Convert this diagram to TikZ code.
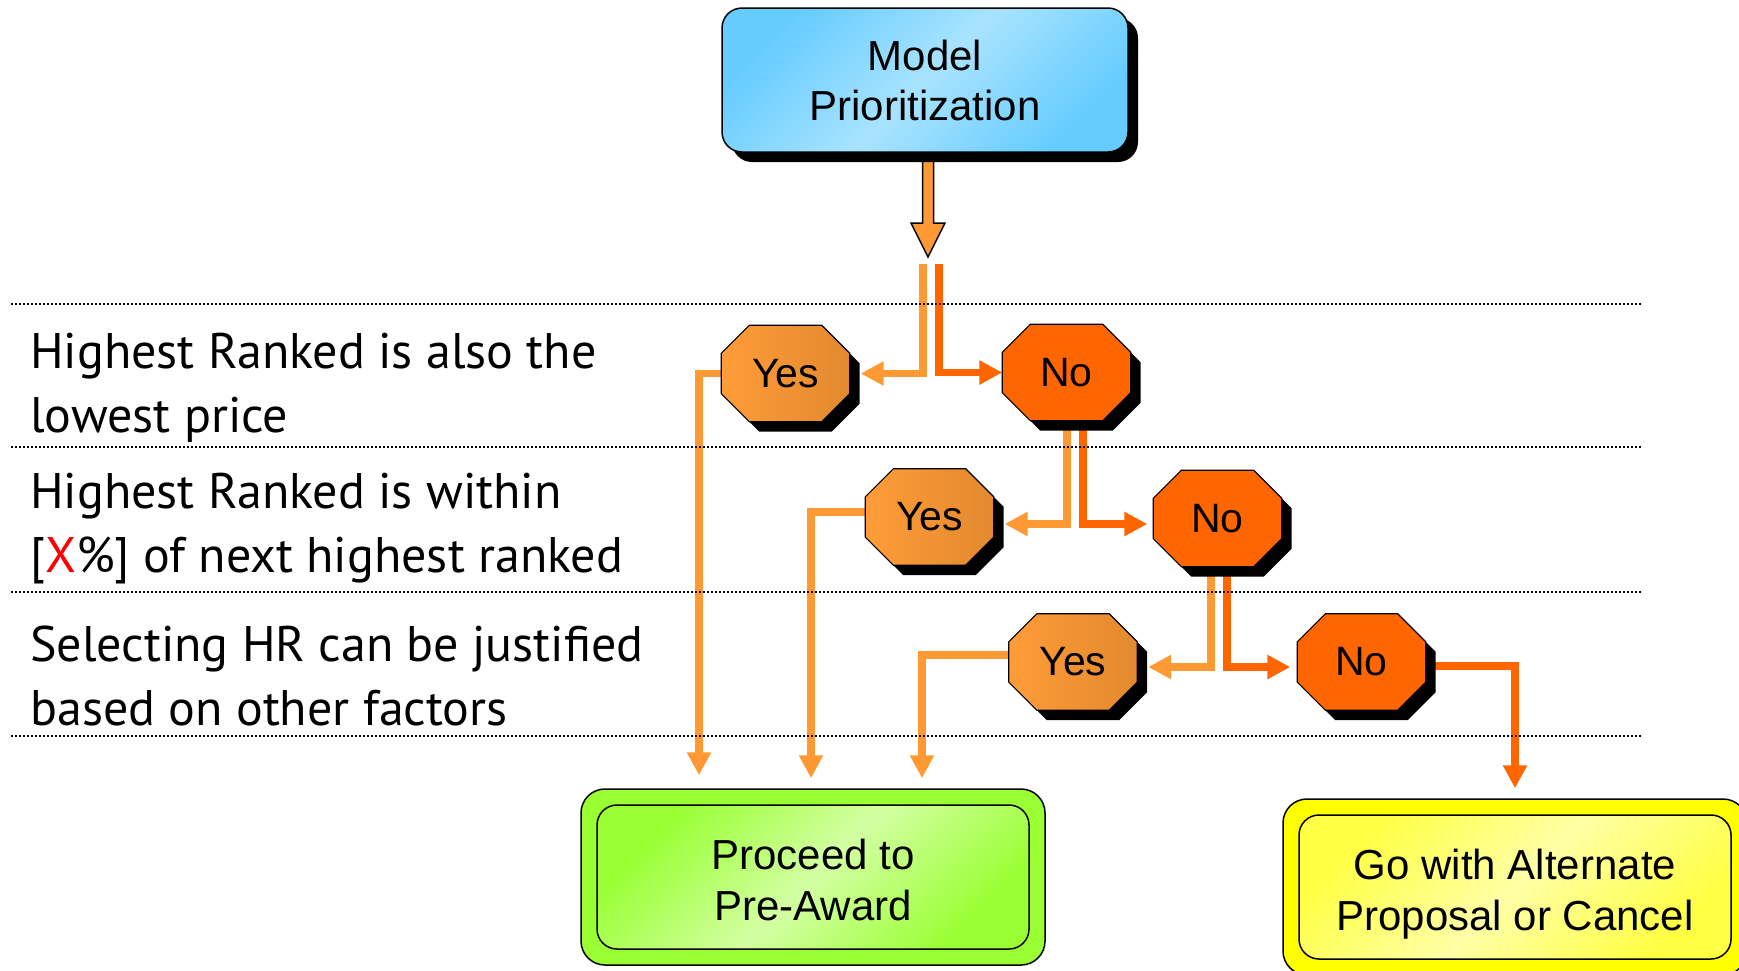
\documentclass[tikz,border=0pt]{standalone}
\usepackage{fontspec}
\setmainfont{PT Sans}
\newfontfamily\arialf{Liberation Sans}
\usetikzlibrary{arrows.meta,shadows,calc}
\definecolor{orL}{HTML}{FF9933}
\definecolor{orD}{HTML}{FF6600}
\definecolor{yesA}{HTML}{FF9C38}
\definecolor{yesB}{HTML}{E2892F}
\definecolor{blueA}{HTML}{66CCFF}
\definecolor{blueB}{HTML}{A8E3FF}
\definecolor{grO}{HTML}{99FF33}
\definecolor{grB}{HTML}{D3FFA3}
\definecolor{yeO}{HTML}{FFFF00}
\definecolor{yeA}{HTML}{FFFF44}
\definecolor{yeB}{HTML}{FFFFA6}
\definecolor{redX}{HTML}{FF0000}
\pgfdeclarelayer{lines}
\pgfdeclarelayer{shapes}
\pgfsetlayers{lines,shapes,main}
\newcommand\octpath[1]{([xshift=28pt]#1.north west) -- ([xshift=-28pt]#1.north east) -- ([yshift=-28pt]#1.north east) -- ([yshift=28pt]#1.south east) -- ([xshift=-28pt]#1.south east) -- ([xshift=28pt]#1.south west) -- ([yshift=28pt]#1.south west) -- ([yshift=-28pt]#1.north west) -- cycle}
\begin{document}
\begin{tikzpicture}[x=1pt,y=-1pt,
  shadowed/.style={general shadow={fill=black, shadow xshift=10pt, shadow yshift=-10pt}},
  model/.style={rectangle, rounded corners=20pt, draw=black, line width=1.5pt,
    minimum width=406pt, minimum height=144pt, align=center, inner sep=0pt,
    font=\arialf\fontsize{42}{50}\selectfont,
    top color=blueA, bottom color=blueA, middle color=blueB, shading angle=45, shadowed},
  oct/.style={rectangle, minimum width=128pt, minimum height=96pt, inner sep=0pt,
    font=\arialf\fontsize{41}{41}\selectfont},
  yesshape/.style={draw=black, line width=1.2pt, left color=yesA, right color=yesB, shadowed},
  noshape/.style={draw=black, line width=1.2pt, fill=orD, shadowed},
  outbox/.style={rectangle, rounded corners=24pt, draw=black, line width=1.5pt,
    minimum width=464pt, minimum height=176pt, inner sep=0pt},
  inbox/.style={rectangle, rounded corners=20pt, draw=black, line width=1.5pt,
    minimum width=432pt, minimum height=144pt, inner sep=0pt},
  boxtext/.style={align=center, inner sep=0pt, font=\arialf\fontsize{42}{51}\selectfont},
  lbl/.style={anchor=base west, align=left, inner sep=0pt, font=\fontsize{50}{64}\selectfont},
  dotline/.style={draw=black, line width=2pt, dash pattern=on 2pt off 2pt},
  lineL/.style={draw=orL, line width=7.5pt, -{Triangle[length=23pt,width=23pt]}},
  lineD/.style={draw=orD, line width=7.5pt, -{Triangle[length=23pt,width=23pt]}}
]
\useasboundingbox (0,0) rectangle (1739,970);
\clip (0,0) rectangle (1739,970);

% dotted separators
\draw[dotline] (11,304) -- (1642,304);
\draw[dotline] (11,447) -- (1642,447);
\draw[dotline] (11,592) -- (1642,592);
\draw[dotline] (11,736) -- (1642,736);

% labels (anchor = baseline of the last line)
\node[lbl] (c1) at (30,432) {Highest Ranked is also the\\lowest price};
\node[lbl] (c2) at (30,572) {Highest Ranked is within\\{[}\textcolor{redX}{X}\%] of next highest ranked};
\node[lbl] (c3) at (30,725) {Selecting HR can be justified\\based on other factors};

% main nodes
\node[model] (model) at (925,80) {Model\\Prioritization};
\coordinate (mtip) at (928,257);
\coordinate (s1L) at (923,264);
\coordinate (s1D) at (939,264);

\node[oct] (yes1) at (785.5,373.5) {Yes};
\node[oct] (no1) at (1066.5,372.5) {No};
\node[oct] (yes2) at (929.5,517) {Yes};
\node[oct] (no2) at (1217.5,518.5) {No};
\node[oct] (yes3) at (1073,662) {Yes};
\node[oct] (no3) at (1361.5,662) {No};

\node[outbox, fill=grO] (proceedOut) at (813,877) {};
\node[inbox, top color=grO, bottom color=grO, middle color=grB, shading angle=45] (proceedIn) at (proceedOut.center) {};
\node[boxtext] (proceed) at ([yshift=-3pt]proceedIn.center) {Proceed to\\Pre-Award};
\node[outbox, fill=yeO] (altOut) at (1515,887) {};
\node[inbox, top color=yeA, bottom color=yeA, middle color=yeB, shading angle=45] (altIn) at (altOut.center) {};
\node[boxtext] (alt) at ([yshift=-7pt]altIn.center) {Go with Alternate\\Proposal or Cancel};

\begin{pgfonlayer}{shapes}
  \path[yesshape] \octpath{yes1};
  \path[noshape] \octpath{no1};
  \path[yesshape] \octpath{yes2};
  \path[noshape] \octpath{no2};
  \path[yesshape] \octpath{yes3};
  \path[noshape] \octpath{no3};
\end{pgfonlayer}

\begin{pgfonlayer}{lines}
  \filldraw[fill=orL, draw=black, line width=1.5pt] ($(mtip)+(-5.5,-130)$) -- ($(mtip)+(-5.5,-34)$) -- ($(mtip)+(-17,-34)$) -- (mtip) -- ($(mtip)+(17,-34)$) -- ($(mtip)+(5.5,-34)$) -- ($(mtip)+(5.5,-130)$) -- cycle;
  \draw[lineL] (s1L) |- ([xshift=11pt]yes1.east);
  \draw[lineD] (s1D) |- (no1.west);
  \draw[lineL] ([xshift=0.5pt]no1.center) |- ([xshift=11pt,yshift=-7pt]yes2.east);
  \draw[lineD] ([xshift=16.5pt]no1.center) |- ([xshift=-6pt,yshift=-5.5pt]no2.west);
  \draw[lineL] ([xshift=-6.5pt]no2.center) |- ([xshift=11pt,yshift=-5pt]yes3.east);
  \draw[lineD] ([xshift=9.5pt]no2.center) |- ([xshift=-7pt,yshift=-5pt]no3.west);
  \draw[lineL] (yes1.west) -| ([xshift=-114pt,yshift=13pt]proceedOut.north);
  \draw[lineL] ([yshift=5pt]yes2.west) -| ([xshift=-2pt,yshift=10pt]proceedOut.north);
  \draw[lineL] ([yshift=7pt]yes3.west) -| ([xshift=109pt,yshift=10pt]proceedOut.north);
  \draw[lineD] ([yshift=-4pt]no3.east) -| ([yshift=10pt]altOut.north);
\end{pgfonlayer}
\end{tikzpicture}
\end{document}
